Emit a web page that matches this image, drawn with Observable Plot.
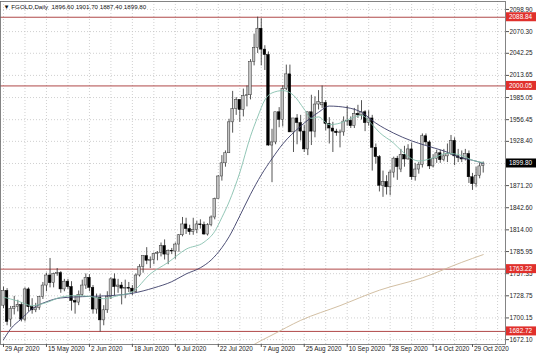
<!DOCTYPE html>
<html><head><meta charset="utf-8">
<script src="https://cdn.jsdelivr.net/npm/d3@7"></script>
<script src="https://cdn.jsdelivr.net/npm/@observablehq/plot@0.6"></script>
<style>html,body{margin:0;padding:0;background:#fff;} svg{display:block}</style>
</head><body><div id="chart"></div>
<script>
// ---- data ----
const title = "\u25BC FGOLD,Daily  1896.60 1901.70 1887.40 1899.80";
const open = [1716,1735,1698,1712,1714,1717,1698,1737,1714,1710,1713,1727,1742,1755,1745,1757,1758,1737,1747,1740,
1722,1720,1730,1742,1752,1739,1711,1726,1697,1710,1727,1750,1740,1742,1738,1739,1738,1734,1755,1766,
1780,1774,1775,1783,1784,1793,1782,1787,1786,1795,1807,1821,1815,1811,1814,1821,1820,1808,1820,1830,
1854,1883,1900,1913,1953,1970,1982,1969,1987,1988,2031,2049,2074,2047,2040,1923,1927,1966,1956,1996,
2015,1940,1958,1952,1941,1918,1966,1941,1976,1975,1978,1951,1945,1941,1939,1940,1954,1955,1948,1964,
1962,1966,1952,1958,1920,1908,1871,1876,1869,1888,1906,1892,1911,1905,1918,1882,1892,1898,1935,1927,
1896,1906,1913,1904,1909,1912,1929,1909,1907,1905,1912,1882,1873,1884,1896.6];
const high = [1740,1738,1715,1728,1723,1720,1739,1739,1725,1719,1728,1746,1758,1777,1758,1764,1760,1750,1750,1747,
1728,1735,1749,1757,1756,1742,1731,1731,1716,1734,1752,1757,1750,1746,1749,1746,1742,1757,1769,1780,
1791,1779,1784,1786,1797,1801,1788,1790,1797,1808,1830,1829,1820,1829,1825,1827,1824,1822,1832,1855,
1884,1910,1916,1957,1993,1985,1982,1996,2000,2034,2067,2089,2087,2052,2044,1944,1962,1972,2000,2027,
2027,1958,1963,1962,1949,1966,1988,1986,1994,2000,1981,1959,1953,1944,1943,1960,1974,1960,1971,1975,
1981,1968,1968,1962,1925,1910,1890,1884,1891,1908,1909,1918,1922,1924,1926,1900,1901,1938,1938,1929,
1911,1917,1917,1918,1925,1936,1933,1918,1916,1918,1916,1887,1895,1900,1901.7];
const low = [1712,1690,1688,1704,1708,1695,1695,1708,1705,1707,1710,1724,1734,1739,1739,1754,1732,1734,1737,1709,
1705,1716,1728,1737,1734,1705,1705,1682,1690,1706,1724,1729,1732,1717,1725,1733,1729,1733,1753,1758,
1769,1764,1769,1774,1779,1775,1769,1782,1776,1785,1805,1808,1807,1807,1809,1815,1807,1806,1818,1827,
1854,1877,1895,1913,1939,1962,1953,1960,1973,1982,2026,2042,2026,2020,1922,1875,1924,1946,1947,1994,
1940,1914,1924,1929,1914,1910,1923,1933,1969,1971,1942,1925,1914,1935,1920,1935,1948,1945,1945,1958,
1956,1941,1948,1890,1899,1863,1856,1859,1858,1881,1878,1888,1895,1904,1878,1877,1886,1894,1923,1892,
1894,1900,1900,1902,1901,1910,1897,1901,1901,1903,1874,1865,1869,1880,1887.4];
const close = [1735,1695,1712,1714,1717,1698,1737,1714,1710,1713,1727,1742,1755,1745,1757,1758,1737,1747,1740,1722,
1720,1730,1742,1752,1739,1711,1726,1697,1710,1727,1750,1740,1742,1738,1739,1738,1734,1755,1766,1780,
1774,1775,1783,1784,1793,1782,1787,1786,1795,1807,1821,1815,1811,1814,1821,1820,1808,1820,1830,1854,
1883,1900,1913,1953,1970,1982,1969,1987,1988,2031,2049,2074,2047,2040,1923,1927,1966,1956,1996,2015,
1940,1958,1952,1941,1918,1966,1941,1976,1979,1978,1951,1945,1941,1939,1940,1954,1955,1948,1964,1962,
1966,1952,1958,1920,1908,1871,1876,1869,1888,1906,1895,1911,1905,1918,1882,1892,1898,1935,1927,1896,
1906,1913,1904,1909,1912,1929,1909,1907,1905,1912,1882,1873,1884,1896,1899.8];

// moving averages (bar index, value)
const fastIdx = [0,4,8,12,16,20,24,28,32,36,41,46,51,56,59,61,63,66,69,71,73,75,78,81,84,86,88,91,94,97,100,103,105,109,111,114,116,120,124,128,131,134];
const fastVal = [1727,1722,1716,1720,1727,1729,1728,1725,1729,1734,1757,1772,1789,1798,1812,1830,1850,1888,1935,1960,1982,1991,1994,1988,1970,1958,1960,1950,1952,1958,1962,1950,1940,1926,1917,1906,1903,1907,1913,1910,1904,1901];
const slowIdx = [0,2,5,8,12,16,24,30,36,42,47,51,55,58,61,63,66,69,72,75,78,83,88,91,96,100,104,109,114,118,123,128,131,134];
const slowVal = [1672,1686,1699,1712,1721,1726,1728,1729,1732,1739,1747,1757,1765,1775,1791,1805,1832,1860,1885,1906,1925,1948,1966,1974,1972,1966,1952,1939,1929,1923,1916,1907,1904,1900];
const longIdx = [66,72,75,83,94,105,117,128,134];
const longVal = [1655,1671,1678,1697,1716,1736,1752,1772,1782];

// axes
const yTicks = [2098.90,2070.30,2042.25,2013.65,1985.05,1956.45,1928.40,1899.80,1871.20,1842.60,1814.00,1785.95,1757.35,1728.75,1700.15,1672.10];
const dateIdx = [0,12,24,36,48,60,72,84,96,108,120,131];
const dateText = ["29 Apr 2020","15 May 2020","2 Jun 2020","18 Jun 2020","6 Jul 2020","22 Jul 2020","7 Aug 2020","25 Aug 2020","10 Sep 2020","28 Sep 2020","14 Oct 2020","29 Oct 2020"];
const gridIdx = [0,6,12,18,24,30,36,42,48,54,60,66,72,78,84,90,96,102,108,114,120,126,132,138];
const levels = [2088.84,2000.05,1763.22,1682.72];
const lastPrice = 1899.80;

// ---- build tables ----
const candles = open.map((o,i)=>({i, o, h: high[i], l: low[i], c: close[i]}));
const bull = candles.filter(d=>d.c>=d.o);
const bear = candles.filter(d=>d.c<d.o);
const fast = fastIdx.map((i,k)=>({i, v: fastVal[k]}));
const slow = slowIdx.map((i,k)=>({i, v: slowVal[k]}));
const long = longIdx.map((i,k)=>({i, v: longVal[k]}));
// tick label hidden under the current-price box in the reference
const labelTicks = yTicks.filter(t => t !== lastPrice);

const font = "'Liberation Sans', Arial, sans-serif";
const gridStyle = {stroke:"#c4c4c4", strokeDasharray:"1,2", strokeWidth:0.8};

const plot = Plot.plot({
  width: 536, height: 357,
  marginLeft: 0, marginRight: 31, marginTop: 1, marginBottom: 13,
  style: {fontFamily: font, fontSize: "6.4px", background: "#fff", color: "#222"},
  x: {domain: [-0.838, 140.22], axis: null, label: null},
  y: {domain: [1665.8, 2109.2], axis: null, label: null},
  marks: [
    Plot.ruleY(yTicks, gridStyle),
    Plot.ruleX(gridIdx, gridStyle),
    Plot.ruleY(levels, {stroke:"#b04848", strokeWidth:1}),
    Plot.ruleX(candles, {x:"i", y1:"l", y2:"h", stroke:"#2a2a2a", strokeWidth:0.8}),
    Plot.rect(bull, {x1: d=>d.i-0.36, x2: d=>d.i+0.36, y1:"o", y2:"c", fill:"#c4c4c4", stroke:"#333", strokeWidth:0.5}),
    Plot.rect(bear, {x1: d=>d.i-0.36, x2: d=>d.i+0.36, y1:"o", y2:"c", fill:"#000", stroke:"#000", strokeWidth:0.5}),
    Plot.line(long, {x:"i", y:"v", stroke:"#cdb898", strokeWidth:0.9, curve:"monotone-x", clip:true}),
    Plot.line(slow, {x:"i", y:"v", stroke:"#3b3d68", strokeWidth:0.9, curve:"monotone-x", clip:true}),
    Plot.line(fast, {x:"i", y:"v", stroke:"#86bfae", strokeWidth:0.9, curve:"monotone-x", clip:true}),
    Plot.frame({stroke:"#666", strokeWidth:0.8}),
    Plot.axisY({anchor:"right", ticks: yTicks, tickFormat: ()=>"", tickSize:3, stroke:"#555", label: null}),
    Plot.axisY({anchor:"right", ticks: labelTicks, tickFormat: d=>d.toFixed(2), tickSize:0, tickPadding:4, fontSize:6.4, fill:"#222", label: null}),
    Plot.axisX({anchor:"bottom", ticks: dateIdx, tickFormat: ()=>"", tickSize:3, stroke:"#555", label: null}),
    Plot.text(dateIdx, {x: d=>d, text: (d,k)=>dateText[k], frameAnchor:"bottom", dx:1.5, dy:6.5, textAnchor:"start", fontSize:6.4, fill:"#222"}),
    Plot.text([title], {text: d=>d, frameAnchor:"top-left", dx:3, dy:3, textAnchor:"start", fontSize:6.2, fill:"#111"})
  ]
});
document.getElementById("chart").append(plot);

// price boxes on the right scale
const sy = plot.scale("y");
const sx = plot.scale("x");
const boxX = sx.apply(140.22) + 1;
const boxes = levels.map(v=>({v, fill:"#e0302c"})).concat([{v:lastPrice, fill:"#000"}]);
const g = d3.select(plot).append("g")
  .attr("font-family", font).attr("font-size", 6.4).attr("text-anchor", "start");
boxes.forEach(b=>{
  const y = sy.apply(b.v);
  g.append("rect").attr("x", boxX).attr("y", y-4.5).attr("width", 536-boxX).attr("height", 9).attr("fill", b.fill);
  g.append("text").attr("x", boxX+3).attr("y", y+2.3).attr("fill", "#fff").attr("text-anchor", "start").text(b.v.toFixed(2));
});
</script>
</body></html>
